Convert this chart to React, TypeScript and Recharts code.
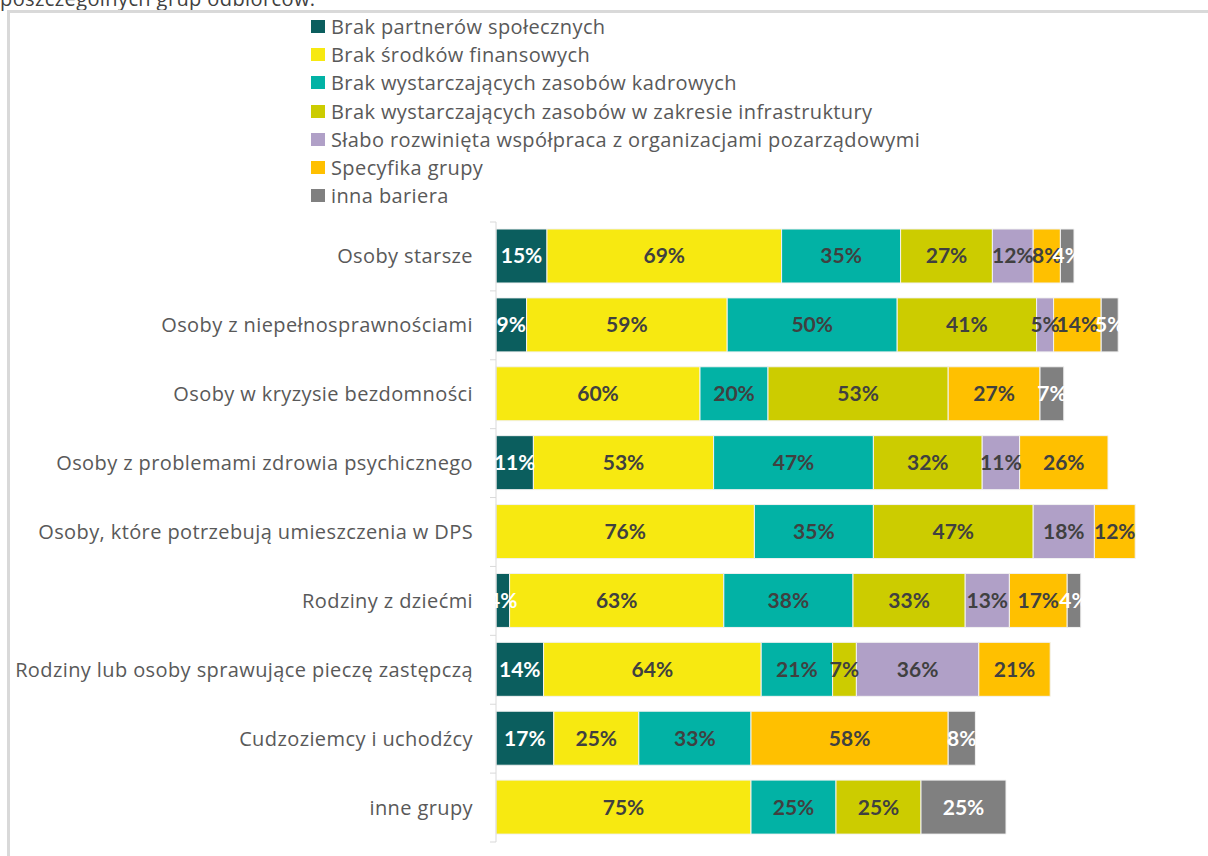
import { BarChart, Bar, XAxis, YAxis, Legend, LabelList } from 'recharts';

// Grupy odbiorców i udział wskazań poszczególnych barier (%)
const groups = [
  'Osoby starsze',
  'Osoby z niepełnosprawnościami',
  'Osoby w kryzysie bezdomności',
  'Osoby z problemami zdrowia psychicznego',
  'Osoby, które potrzebują umieszczenia w DPS',
  'Rodziny z dziećmi',
  'Rodziny lub osoby sprawujące pieczę zastępczą',
  'Cudzoziemcy i uchodźcy',
  'inne grupy',
];

const brakPartnerow = [15, 9, null, 11, null, 4, 14, 17, null];
const brakSrodkow = [69, 59, 60, 53, 76, 63, 64, 25, 75];
const brakKadr = [35, 50, 20, 47, 35, 38, 21, 33, 25];
const brakInfrastruktury = [27, 41, 53, 32, 47, 33, 7, null, 25];
const slabaWspolpraca = [12, 5, null, 11, 18, 13, 36, null, null];
const specyfikaGrupy = [8, 14, 27, 26, 12, 17, 21, 58, null];
const innaBariera = [4, 5, 7, null, null, 4, null, 8, 25];

const SERIES = [
  { key: 'partnerzy', name: 'Brak partnerów społecznych', values: brakPartnerow, color: '#0b5e5e', label: '#ffffff' },
  { key: 'srodki', name: 'Brak środków finansowych', values: brakSrodkow, color: '#f7e911', label: '#404040' },
  { key: 'kadry', name: 'Brak wystarczających zasobów kadrowych', values: brakKadr, color: '#02b2a5', label: '#404040' },
  { key: 'infra', name: 'Brak wystarczających zasobów w zakresie infrastruktury', values: brakInfrastruktury, color: '#cccc00', label: '#404040' },
  { key: 'ngo', name: 'Słabo rozwinięta współpraca z organizacjami pozarządowymi', values: slabaWspolpraca, color: '#b0a0c7', label: '#404040' },
  { key: 'specyfika', name: 'Specyfika grupy', values: specyfikaGrupy, color: '#ffc000', label: '#404040' },
  { key: 'inna', name: 'inna bariera', values: innaBariera, color: '#808080', label: '#ffffff' },
];

const data = groups.map((group, i) => {
  const row: Record<string, string | number | null> = { group };
  SERIES.forEach((s) => {
    row[s.key] = s.values[i];
  });
  return row;
});

const TICK_GAP = 23;
const GRID = '#d9d9d9';
const TEXT_FONT = { fontFamily: '"Open Sans", sans-serif', fontSize: 20, letterSpacing: 0.4 };

function GroupTick(props: any) {
  const { x, y, payload, index, visibleTicksCount } = props;
  const half = payload?.offset ?? 34.4;
  const axisX = x + TICK_GAP;
  const last = index === visibleTicksCount - 1;
  return (
    <g>
      <line x1={axisX - 6} x2={axisX} y1={y - half} y2={y - half} stroke={GRID} />
      {last && <line x1={axisX - 6} x2={axisX} y1={y + half} y2={y + half} stroke={GRID} />}
      <text x={x} y={y} dy="0.35em" textAnchor="end" fill="#595959" style={TEXT_FONT}>
        {payload.value}
      </text>
    </g>
  );
}

// legenda w kolejności serii, nie alfabetycznie
function LegendList(props: any) {
  const items = [...(props.payload ?? [])].sort(
    (a: any, b: any) =>
      SERIES.findIndex((s) => s.name === a.value) - SERIES.findIndex((s) => s.name === b.value),
  );
  return (
    <div style={{ ...TEXT_FONT, color: '#595959' }}>
      {items.map((it: any) => (
        <div key={it.value} style={{ display: 'flex', alignItems: 'center', height: 28.3, whiteSpace: 'nowrap' }}>
          <span style={{ width: 14, height: 13, background: it.color, display: 'inline-block', marginRight: 6 }} />
          {it.value}
        </div>
      ))}
    </div>
  );
}

const pct = (v: any) => (v == null || v === 0 ? '' : `${v}%`);

export default function App() {
  return (
    <div style={{ position: 'fixed', left: 0, top: 0, width: 1208, height: 856, overflow: 'hidden', background: '#fff' }}>
      <div
        style={{
          position: 'absolute',
          left: 0,
          top: -11,
          ...TEXT_FONT,
          lineHeight: '20px',
          color: '#404040',
          whiteSpace: 'nowrap',
        }}
      >
        poszczególnych grup odbiorców.
      </div>
      <div
        style={{
          position: 'absolute',
          left: 7,
          top: 10,
          width: 1230,
          height: 880,
          border: '3px solid #d9d9d9',
          boxSizing: 'border-box',
          background: '#fff',
        }}
      />
      <div style={{ position: 'absolute', left: 0, top: 0 }}>
        <BarChart
          width={1208}
          height={856}
          data={data}
          layout="vertical"
          margin={{ top: 222, right: 32, bottom: 14, left: 0 }}
          barSize={54}
        >
          <XAxis type="number" domain={[0, 200]} hide />
          <YAxis
            type="category"
            dataKey="group"
            width={496}
            axisLine={{ stroke: GRID }}
            tickLine={false}
            tickSize={0}
            tickMargin={TICK_GAP}
            interval={0}
            tick={<GroupTick />}
          />
          <Legend
            layout="vertical"
            align="center"
            verticalAlign="middle"
            wrapperStyle={{ top: 12, left: 311, width: 'auto' }}
            content={<LegendList />}
          />
          {SERIES.map((s) => (
            <Bar
              key={s.key}
              dataKey={s.key}
              name={s.name}
              stackId="bariery"
              fill={s.color}
              stroke="#f2f2f2"
              strokeWidth={1}
              isAnimationActive={false}
            >
              <LabelList
                dataKey={s.key}
                position="center"
                formatter={pct}
                fill={s.label}
                style={{ fontFamily: 'Lato, sans-serif', fontWeight: 700, fontSize: 21 }}
              />
            </Bar>
          ))}
        </BarChart>
      </div>
    </div>
  );
}
